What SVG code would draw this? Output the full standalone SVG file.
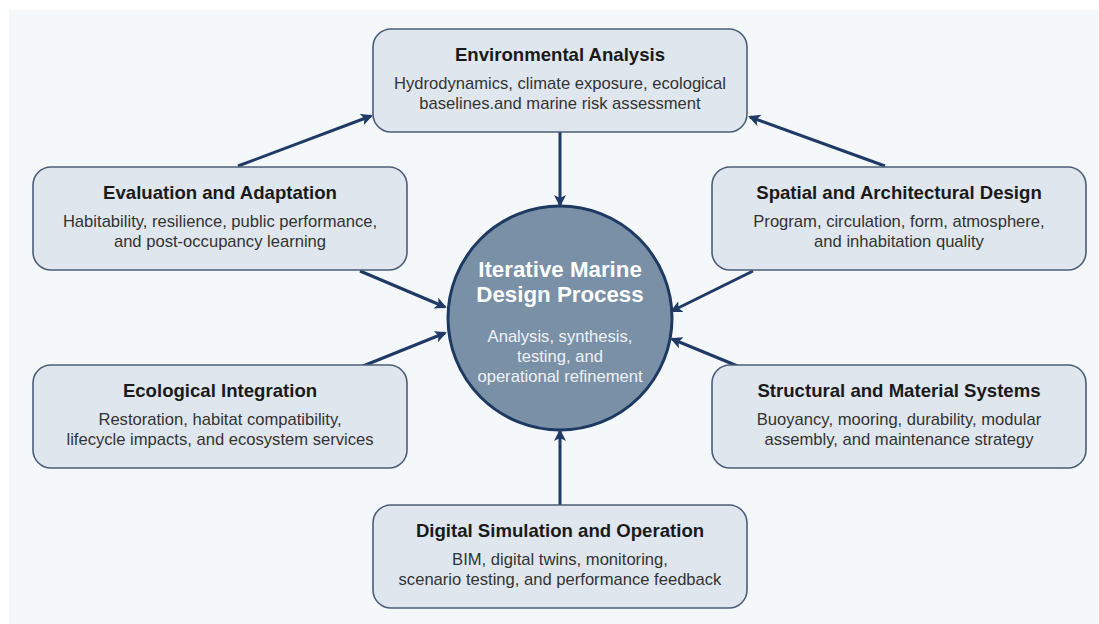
<svg xmlns="http://www.w3.org/2000/svg" width="1099" height="624" viewBox="0 0 1099 624">
  <defs>
    <marker id="ah" markerWidth="12" markerHeight="12" refX="10" refY="6" orient="auto" markerUnits="userSpaceOnUse" viewBox="0 0 12 12">
      <path d="M0,0 L12,6 L0,12 L3,6 Z" fill="#1f3a66"/>
    </marker>
    <style>
      .box { fill: #dfe6ee; stroke: #4b5d77; stroke-width: 1.6; }
      .t { font-family: "Liberation Sans", Arial, sans-serif; font-weight: bold; font-size: 18.6px; fill: #1a1a1a; text-anchor: middle; }
      .b { font-family: "Liberation Sans", Arial, sans-serif; font-size: 16.6px; fill: #333333; text-anchor: middle; }
      .c { stroke: #1f3a66; stroke-width: 3; fill: none; marker-end: url(#ah); }
      .ct { font-family: "Liberation Sans", Arial, sans-serif; font-weight: bold; font-size: 22.3px; fill: #ffffff; text-anchor: middle; }
      .cb { font-family: "Liberation Sans", Arial, sans-serif; font-size: 16.6px; fill: #eef2f6; text-anchor: middle; }
    </style>
  </defs>
  <rect x="0" y="0" width="1099" height="624" fill="#ffffff"/>
  <rect x="9" y="10" width="1090" height="614" fill="#f5f8fb"/>

  <g id="connectors">
    <line class="c" x1="560" y1="132" x2="560" y2="205"/>
    <line class="c" x1="560" y1="505" x2="560" y2="431"/>
    <line class="c" x1="238" y1="166" x2="371" y2="116"/>
    <line class="c" x1="885" y1="166" x2="750" y2="117"/>
    <line class="c" x1="360" y1="271" x2="445" y2="307"/>
    <line class="c" x1="363" y1="366" x2="445" y2="333"/>
    <line class="c" x1="753" y1="271" x2="672" y2="311"/>
    <line class="c" x1="740" y1="367" x2="672" y2="339"/>
  </g>

  <g id="center">
    <circle cx="560" cy="318" r="112" fill="#7a90a7" stroke="#1e3a63" stroke-width="3"/>
    <text class="ct" x="560" y="277">Iterative Marine</text>
    <text class="ct" x="560" y="302">Design Process</text>
    <text class="cb" x="560" y="342">Analysis, synthesis,</text>
    <text class="cb" x="560" y="362">testing, and</text>
    <text class="cb" x="560" y="382">operational refinement</text>
  </g>

  <g id="environmental-analysis">
    <rect class="box" x="373" y="29" width="374" height="103" rx="18"/>
    <text class="t" x="560" y="61">Environmental Analysis</text>
    <text class="b" x="560" y="89">Hydrodynamics, climate exposure, ecological</text>
    <text class="b" x="560" y="109">baselines.and marine risk assessment</text>
  </g>

  <g id="evaluation-adaptation">
    <rect class="box" x="33" y="167" width="374" height="103" rx="18"/>
    <text class="t" x="220" y="199">Evaluation and Adaptation</text>
    <text class="b" x="220" y="227">Habitability, resilience, public performance,</text>
    <text class="b" x="220" y="247">and post-occupancy learning</text>
  </g>

  <g id="spatial-architectural">
    <rect class="box" x="712" y="167" width="374" height="103" rx="18"/>
    <text class="t" x="899" y="199">Spatial and Architectural Design</text>
    <text class="b" x="899" y="227">Program, circulation, form, atmosphere,</text>
    <text class="b" x="899" y="247">and inhabitation quality</text>
  </g>

  <g id="ecological-integration">
    <rect class="box" x="33" y="365" width="374" height="103" rx="18"/>
    <text class="t" x="220" y="397">Ecological Integration</text>
    <text class="b" x="220" y="425">Restoration, habitat compatibility,</text>
    <text class="b" x="220" y="445">lifecycle impacts, and ecosystem services</text>
  </g>

  <g id="structural-material">
    <rect class="box" x="712" y="365" width="374" height="103" rx="18"/>
    <text class="t" x="899" y="397">Structural and Material Systems</text>
    <text class="b" x="899" y="425">Buoyancy, mooring, durability, modular</text>
    <text class="b" x="899" y="445">assembly, and maintenance strategy</text>
  </g>

  <g id="digital-simulation">
    <rect class="box" x="373" y="505" width="374" height="103" rx="18"/>
    <text class="t" x="560" y="537">Digital Simulation and Operation</text>
    <text class="b" x="560" y="565">BIM, digital twins, monitoring,</text>
    <text class="b" x="560" y="585">scenario testing, and performance feedback</text>
  </g>
</svg>
